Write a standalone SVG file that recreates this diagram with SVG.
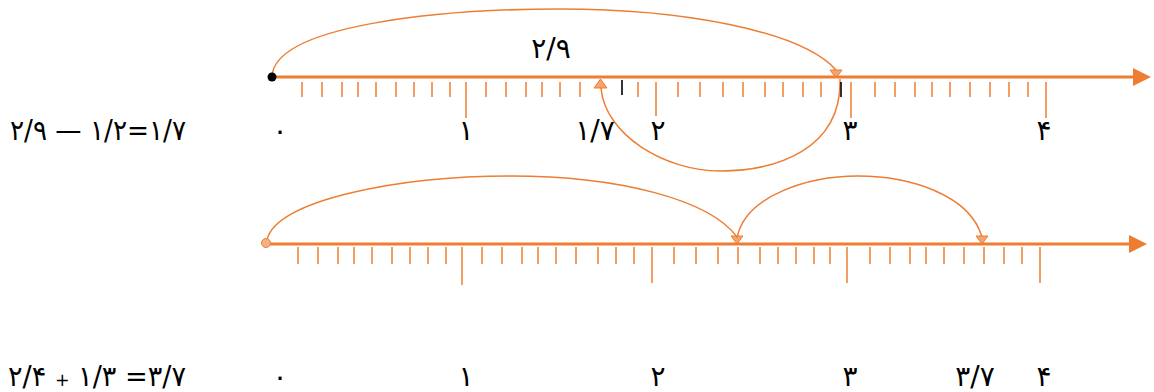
<svg xmlns="http://www.w3.org/2000/svg" width="1154" height="392" viewBox="0 0 1154 392">
<style>
.axis{stroke:#ED7D31;stroke-width:3;fill:none}
.tick{stroke:#ED7D31;stroke-width:1.5;fill:none}
.btick{stroke:#000;stroke-width:1.6;fill:none}
.curve{stroke:#ED7D31;stroke-width:1.5;fill:none}
.head{fill:#F4A46E;stroke:#ED7D31;stroke-width:1}
.lbl{font-family:"DejaVu Sans",sans-serif;font-size:28px;fill:#000;text-anchor:middle;direction:ltr}
.eq{font-family:"DejaVu Sans",sans-serif;font-size:28px;fill:#000;direction:ltr}
</style>
<defs>
<marker id="axisEnd" markerWidth="6" markerHeight="6" refX="1" refY="3" orient="auto" markerUnits="strokeWidth">
<path d="M0,0 L6,3 L0,6 Z" fill="#ED7D31"/>
</marker>
</defs>
<g id="connectors">
<path class="curve" d="M272,76 C276,25 440,9 560,9 C680,9 800,30 836,70"/>
<path class="head" d="M830,70 L842,70 L836,78 Z"/>
<path class="curve" d="M840,79 C842,150 775,171 720,171 C665,171 605,135 601,88"/>
<path class="head" d="M594,88 L607,88 L600.5,79 Z"/>
<path class="curve" d="M267,240 C275,200 400,176 510,176 C620,176 710,200 737,237"/>
<path class="head" d="M731,236 L743,236 L737,244 Z"/>
<path class="curve" d="M737,238 C745,195 810,176 858,176 C910,176 970,195 982,237"/>
<path class="head" d="M976,236 L988,236 L982,244 Z"/>
</g>
<g id="axis-top">
<line class="axis" x1="272" y1="77" x2="1136" y2="77" marker-end="url(#axisEnd)"/>
<path class="tick" d="M302,82V97M322,82V97M342,82V97M358,82V97M376,82V97M396,82V97M414,82V97M432,82V97M450,82V97M486,82V97M506,82V97M526,82V97M542,82V97M560,82V97M580,82V97M638,82V97M678,82V97M700,82V97M723,82V97M743,82V97M765,82V97M783,82V97M803,82V97M821,82V97M875,82V97M895,82V97M915,82V97M932,82V97M950,82V97M970,82V97M990,82V97M1009,82V97M1028,82V97"/>
<path class="tick" d="M466,82V118M656,82V116M851,82V118M1046,82V118"/>
<path class="btick" d="M622,80V95M841,82V97"/>
<circle cx="272" cy="77" r="4.5" fill="#000"/>
</g>
<g id="axis-bottom">
<line class="axis" x1="266" y1="244" x2="1132" y2="244" marker-end="url(#axisEnd)"/>
<path class="tick" d="M298,247V264M318,247V264M338,247V264M354,247V264M372,247V264M392,247V264M410,247V264M428,247V264M446,247V264M482,247V264M502,247V264M522,247V264M538,247V264M556,247V264M576,247V264M598,247V264M616,247V264M634,247V264M674,247V264M696,247V264M718,247V264M738,247V264M760,247V264M778,247V264M796,247V264M814,247V264M830,247V264M870,247V264M890,247V264M910,247V264M926,247V264M944,247V264M964,247V264M984,247V264M1004,247V264M1022,247V264"/>
<path class="tick" d="M462,247V285M652,247V283M847,247V283M1040,247V283"/>
<circle cx="266" cy="243" r="4.5" fill="#F4B183" stroke="#ED7D31" stroke-width="1"/>
</g>
<g id="labels-top">
<text class="lbl" x="551" y="58">۲/۹</text>
<text class="lbl" x="280" y="140">۰</text>
<text class="lbl" x="466" y="140">۱</text>
<text class="lbl" x="595" y="140">۱/۷</text>
<text class="lbl" x="658" y="140">۲</text>
<text class="lbl" x="850" y="140">۳</text>
<text class="lbl" x="1044" y="140">۴</text>
<text class="eq" x="10" y="140" textLength="176" lengthAdjust="spacingAndGlyphs">۲/۹ — ۱/۲=۱/۷</text>
</g>
<g id="labels-bottom">
<text class="lbl" x="280" y="386">۰</text>
<text class="lbl" x="466" y="386">۱</text>
<text class="lbl" x="658" y="386">۲</text>
<text class="lbl" x="850" y="386">۳</text>
<text class="lbl" x="975" y="386">۳/۷</text>
<text class="lbl" x="1044" y="386">۴</text>
<text class="eq" x="8" y="386" textLength="178" lengthAdjust="spacingAndGlyphs">۲/۴ <tspan font-size="18">+</tspan> ۱/۳ =۳/۷</text>
</g>
</svg>
